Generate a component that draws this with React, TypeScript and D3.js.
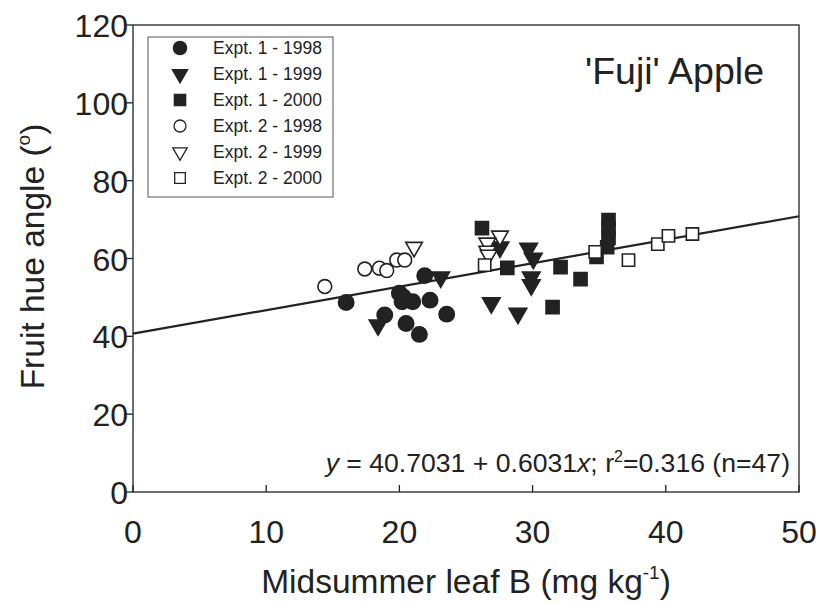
import React, { useRef, useEffect } from 'react';
import * as d3 from 'd3';

// Expt. 1 (filled) and Expt. 2 (open) points, [leaf B, hue angle]
const e1_1998: [number, number][] = [
  [16.0, 48.7], [21.9, 55.6], [20.0, 51.1], [20.2, 48.9], [21.0, 48.9], [22.3, 49.3],
  [23.55, 45.7], [18.9, 45.5], [20.5, 43.3], [21.5, 40.5], [20.3, 50.1],
];
const e1_1999: [number, number][] = [
  [18.4, 42.9], [23.1, 55.2], [27.55, 62.9], [29.7, 62.6], [30.05, 60.0], [29.9, 55.2],
  [29.9, 53.2], [26.9, 48.6], [28.9, 45.9],
];
const e1_2000: [number, number][] = [
  [26.2, 67.8], [28.1, 57.6], [32.1, 57.8], [33.6, 54.7], [31.5, 47.5], [35.7, 69.9],
  [35.7, 67.8], [35.7, 65.3], [35.6, 62.9], [34.8, 60.4],
];
const e2_1998: [number, number][] = [
  [14.4, 52.8], [17.4, 57.3], [18.5, 57.5], [19.05, 56.9], [19.8, 59.6], [20.4, 59.6],
];
const e2_1999: [number, number][] = [
  [21.1, 62.9], [27.55, 65.8], [26.6, 64.0], [26.6, 61.9], [26.7, 60.9],
];
const e2_2000: [number, number][] = [
  [26.4, 58.3], [34.7, 61.7], [37.2, 59.6], [39.4, 63.7], [40.2, 65.8], [42.0, 66.3],
];

const seriesNames = [
  'Expt. 1 - 1998', 'Expt. 1 - 1999', 'Expt. 1 - 2000',
  'Expt. 2 - 1998', 'Expt. 2 - 1999', 'Expt. 2 - 2000',
];
const xTicks = [0, 10, 20, 30, 40, 50];
const yTicks = [0, 20, 40, 60, 80, 100, 120];
const intercept = 40.7031;
const slope = 0.6031;

const FONT = "'Liberation Sans', Arial, sans-serif";
const INK = '#222';

const App = () => {
  const ref = useRef<SVGSVGElement>(null);

  useEffect(() => {
    if (!ref.current) return;
    const svg = d3.select(ref.current);
    svg.selectAll('*').remove();

    const x = d3.scaleLinear().domain([0, 50]).range([133, 799]);
    const y = d3.scaleLinear().domain([0, 120]).range([492, 25]);

    const series = [
      { data: e1_1998, shape: d3.symbolCircle, filled: true, size: 185, rot: 0 },
      { data: e1_1999, shape: d3.symbolTriangle, filled: true, size: 135, rot: 180 },
      { data: e1_2000, shape: d3.symbolSquare, filled: true, size: 170, rot: 0 },
      { data: e2_1998, shape: d3.symbolCircle, filled: false, size: 150, rot: 0 },
      { data: e2_1999, shape: d3.symbolTriangle, filled: false, size: 120, rot: 180 },
      { data: e2_2000, shape: d3.symbolSquare, filled: false, size: 150, rot: 0 },
    ];

    // frame
    svg.append('rect')
      .attr('x', x(0)).attr('y', y(120))
      .attr('width', x(50) - x(0)).attr('height', y(0) - y(120))
      .attr('fill', 'none').attr('stroke', INK).attr('stroke-width', 1.3);

    // x ticks (inward)
    const gx = svg.append('g');
    xTicks.forEach(t => {
      gx.append('line').attr('x1', x(t)).attr('x2', x(t))
        .attr('y1', y(0)).attr('y2', y(0) - 7)
        .attr('stroke', INK).attr('stroke-width', 1.3);
      gx.append('text').attr('x', x(t)).attr('y', y(0) + 51)
        .attr('text-anchor', 'middle').attr('font-family', FONT)
        .attr('font-size', 32).attr('fill', INK).text(t);
    });

    // y ticks (outward)
    const gy = svg.append('g');
    yTicks.forEach(t => {
      gy.append('line').attr('x1', x(0) - 7).attr('x2', x(0))
        .attr('y1', y(t)).attr('y2', y(t))
        .attr('stroke', INK).attr('stroke-width', 1.3);
      gy.append('text').attr('x', x(0) - 5).attr('y', y(t) + 12)
        .attr('text-anchor', 'end').attr('font-family', FONT)
        .attr('font-size', 32).attr('fill', INK).text(t);
    });

    // axis titles
    const xt = svg.append('text').attr('x', x(25)).attr('y', 593)
      .attr('text-anchor', 'middle').attr('font-family', FONT)
      .attr('font-size', 33.5).attr('fill', INK);
    xt.append('tspan').text('Midsummer leaf B (mg kg');
    xt.append('tspan').attr('dy', -14).attr('font-size', 19).text('-1');
    xt.append('tspan').attr('dy', 14).text(')');

    const yt = svg.append('text')
      .attr('transform', `translate(44,${y(60) - 2}) rotate(-90)`)
      .attr('text-anchor', 'middle').attr('font-family', FONT)
      .attr('font-size', 33.5).attr('fill', INK);
    yt.append('tspan').text('Fruit hue angle (');
    yt.append('tspan').attr('dy', -14).attr('font-size', 19).text('o');
    yt.append('tspan').attr('dy', 14).text(')');

    // regression line
    const line = d3.line<number>().x(d => x(d)).y(d => y(intercept + slope * d));
    svg.append('path').datum([0, 50]).attr('d', line)
      .attr('fill', 'none').attr('stroke', INK).attr('stroke-width', 2.2);

    // points
    series.forEach(s => {
      const sym = d3.symbol().type(s.shape).size(s.size);
      svg.append('g').selectAll('path').data(s.data).join('path')
        .attr('d', sym)
        .attr('transform', d => `translate(${x(d[0])},${y(d[1])}) rotate(${s.rot})`)
        .attr('fill', s.filled ? INK : '#fff')
        .attr('stroke', INK).attr('stroke-width', 1.6);
    });

    // legend
    const lg = svg.append('g');
    lg.append('rect').attr('x', 148).attr('y', 37).attr('width', 185).attr('height', 160)
      .attr('fill', '#fff').attr('stroke', '#555').attr('stroke-width', 1);
    series.forEach((s, i) => {
      const cy = 48 + i * 26;
      const sym = d3.symbol().type(s.shape).size(s.size * 0.75);
      lg.append('path').attr('d', sym)
        .attr('transform', `translate(180,${cy}) rotate(${s.rot})`)
        .attr('fill', s.filled ? INK : '#fff')
        .attr('stroke', INK).attr('stroke-width', 1.3);
      lg.append('text').attr('x', 213).attr('y', cy + 6)
        .attr('font-family', FONT).attr('font-size', 17.5).attr('fill', INK)
        .text(seriesNames[i]);
    });

    // title
    svg.append('text').attr('x', 585).attr('y', 84)
      .attr('font-family', FONT).attr('font-size', 37.5).attr('fill', INK)
      .text("'Fuji' Apple");

    // equation
    const eq = svg.append('text').attr('x', 790).attr('y', 472)
      .attr('text-anchor', 'end').attr('font-family', FONT)
      .attr('font-size', 26.6).attr('fill', INK);
    eq.append('tspan').attr('font-style', 'italic').text('y');
    eq.append('tspan').text(` = ${intercept} + ${slope}`);
    eq.append('tspan').attr('font-style', 'italic').text('x');
    eq.append('tspan').text('; r');
    eq.append('tspan').attr('dy', -10).attr('font-size', 16).text('2');
    eq.append('tspan').attr('dy', 10).text('=0.316 (n=47)');
  }, []);

  return (
    <svg ref={ref} width={817} height={604}
      style={{ position: 'absolute', left: 0, top: 0, background: '#fff' }} />
  );
};

export default App;
